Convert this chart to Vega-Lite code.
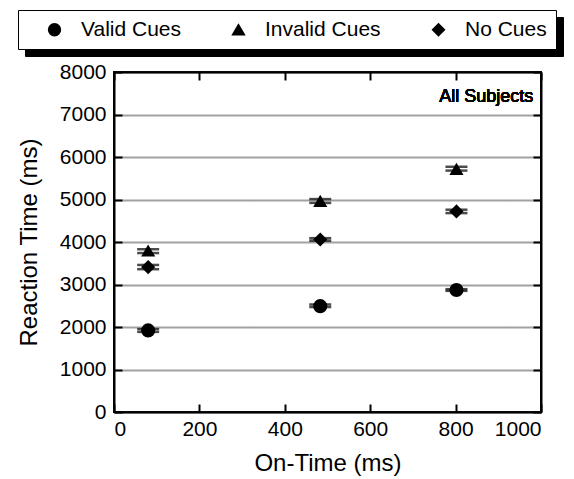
{
  "$schema": "https://vega.github.io/schema/vega-lite/v6.json",
  "width": 427,
  "height": 340,
  "autosize": "none",
  "padding": {"left": 114, "top": 72, "right": 33, "bottom": 67},
  "background": "white",
  "config": {
    "font": "Liberation Sans",
    "view": {"stroke": "black", "strokeWidth": 2},
    "axis": {
      "domainColor": "black", "domainWidth": 2,
      "tickColor": "black", "tickWidth": 2, "tickSize": -8,
      "labelColor": "black", "titleColor": "black",
      "labelFont": "Liberation Sans", "titleFont": "Liberation Sans",
      "labelFontSize": 21, "titleFontSize": 24, "titleFontWeight": "normal", "format": "d"
    }
  },
  "data": {"values": [
    {"t": 80, "cond": "Valid Cues", "g": "v", "rt": 1920, "lo": 1885, "hi": 1950},
    {"t": 483, "cond": "Valid Cues", "g": "v", "rt": 2490, "lo": 2470, "hi": 2530},
    {"t": 802, "cond": "Valid Cues", "g": "v", "rt": 2870, "lo": 2850, "hi": 2890},
    {"t": 80, "cond": "Invalid Cues", "g": "i", "rt": 3800, "lo": 3740, "hi": 3830},
    {"t": 483, "cond": "Invalid Cues", "g": "i", "rt": 4970, "lo": 4920, "hi": 5010},
    {"t": 802, "cond": "Invalid Cues", "g": "i", "rt": 5720, "lo": 5680, "hi": 5770},
    {"t": 80, "cond": "No Cues", "g": "n", "rt": 3410, "lo": 3360, "hi": 3460},
    {"t": 483, "cond": "No Cues", "g": "n", "rt": 4060, "lo": 4030, "hi": 4090},
    {"t": 802, "cond": "No Cues", "g": "n", "rt": 4720, "lo": 4680, "hi": 4760}
  ]},
  "resolve": {"axis": {"x": "independent", "y": "independent"}},
  "layer": [
    {
      "mark": {"type": "tick", "orient": "horizontal", "color": "black", "thickness": 2.5, "size": 22},
      "encoding": {
        "x": {"field": "t", "type": "quantitative", "scale": {"domain": [0, 1000], "nice": false},
          "axis": {"values": [0, 200, 400, 600, 800, 1000], "title": "On-Time (ms)", "grid": false, "labelPadding": 14, "titlePadding": 12}},
        "y": {"field": "lo", "type": "quantitative", "scale": {"domain": [0, 8000], "nice": false},
          "axis": {"values": [0, 1000, 2000, 3000, 4000, 5000, 6000, 7000, 8000], "title": "Reaction Time (ms)",
            "grid": true, "gridColor": "#444444", "gridWidth": 2, "gridDash": [1, 1], "labelPadding": 16, "titlePadding": 18}}
      }
    },
    {
      "mark": {"type": "tick", "orient": "horizontal", "color": "black", "thickness": 2.5, "size": 22},
      "encoding": {
        "x": {"field": "t", "type": "quantitative",
          "axis": {"orient": "top", "values": [0, 200, 400, 600, 800, 1000], "labels": false, "title": null, "grid": false}},
        "y": {"field": "hi", "type": "quantitative",
          "axis": {"orient": "right", "values": [0, 1000, 2000, 3000, 4000, 5000, 6000, 7000, 8000], "labels": false, "title": null, "grid": false}}
      }
    },
    {
      "mark": {"type": "point", "filled": true, "size": 200, "opacity": 1},
      "encoding": {
        "x": {"field": "t", "type": "quantitative", "axis": null},
        "y": {"field": "rt", "type": "quantitative", "axis": null},
        "color": {"field": "g", "type": "nominal",
          "scale": {"domain": ["v", "i", "n"], "range": ["black", "black", "black"]},
          "legend": {"title": null, "orient": "none", "legendX": -89, "legendY": -55, "direction": "horizontal", "zindex": 1,
            "labelExpr": "datum.label == 'v' ? 'Valid Cues' : datum.label == 'i' ? 'Invalid Cues' : 'No Cues'",
            "fillColor": "black", "strokeColor": "black", "padding": 9,
            "symbolOffset": 17, "symbolSize": 140, "symbolType": "circle",
            "labelFontSize": 21, "labelColor": "black", "labelFont": "Liberation Sans", "labelOffset": 16, "columnPadding": 30}},
        "shape": {"field": "cond", "type": "nominal",
          "scale": {"domain": ["Valid Cues", "Invalid Cues", "No Cues"], "range": ["circle", "triangle-up", "diamond"]},
          "legend": {"title": null, "orient": "none", "legendX": -96, "legendY": -62, "direction": "horizontal", "zindex": 5,
            "fillColor": "white", "strokeColor": "black", "padding": 9,
            "symbolOffset": 17, "symbolSize": 140, "symbolFillColor": "black", "symbolStrokeColor": "black",
            "labelFontSize": 21, "labelColor": "black", "labelFont": "Liberation Sans", "labelOffset": 16, "columnPadding": 30}}
      }
    },
    {
      "mark": {"type": "text", "align": "right", "baseline": "middle", "fontSize": 18, "fontWeight": "normal", "color": "black", "font": "Liberation Sans"},
      "encoding": {
        "x": {"datum": 982, "axis": null},
        "y": {"datum": 7420, "axis": null},
        "text": {"value": "All Subjects"}
      }
    }
  ]
}
